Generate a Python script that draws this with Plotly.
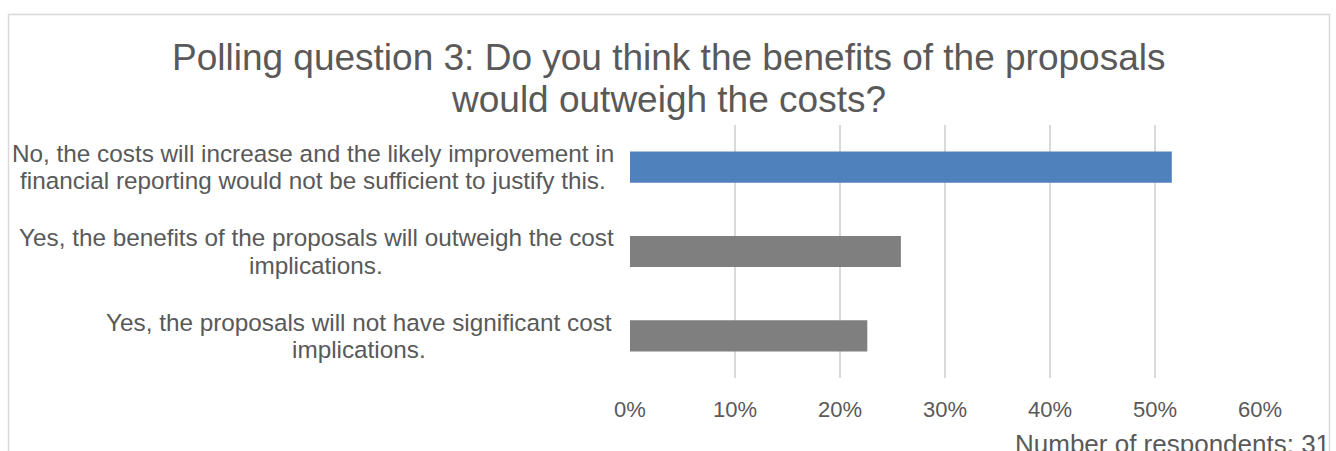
import plotly.graph_objects as go

# Poll results (each category label split into its two display lines)
categories = [
    "No, the costs will increase",
    "Yes, the benefits outweigh the costs",
    "Yes, no significant cost implications",
]
label_lines = [
    ["No, the costs will increase and the likely improvement in",
     "financial reporting would not be sufficient to justify this."],
    ["Yes, the benefits of the proposals will outweigh the cost",
     "implications."],
    ["Yes, the proposals will not have significant cost",
     "implications."],
]
shares = [0.516, 0.258, 0.226]
bar_colors = ["#4f81bd", "#7f7f7f", "#7f7f7f"]
tick_values = [0, 0.1, 0.2, 0.3, 0.4, 0.5, 0.6]
tick_labels = ["0%", "10%", "20%", "30%", "40%", "50%", "60%"]
title_lines = [
    "Polling question 3: Do you think the benefits of the proposals",
    "would outweigh the costs?",
]
footnote = "Number of respondents: 31"

W, H = 1336, 451
L, R, T, B = 630, 76, 125, 73
plot_w = W - L - R
plot_h = H - T - B

def px_x(px):
    return (px - L) / plot_w

def px_y(py):
    return (H - B - py) / plot_h

TEXT = "#595959"
FONT = "Liberation Sans, Arial, sans-serif"

fig = go.Figure(
    go.Bar(
        y=categories,
        x=shares,
        orientation="h",
        marker=dict(color=bar_colors, line=dict(width=0)),
        width=0.37,
        hoverinfo="skip",
    )
)

annotations = []

# Category labels: lines centred on each other, block right edge near the axis
label_centers_px = [313, 316, 359]
label_font = dict(family=FONT, size=24.3, color=TEXT)
line_gap = 27.4
for cat, lines, cx in zip(categories, label_lines, label_centers_px):
    for k, line in enumerate(lines):
        annotations.append(dict(
            text=line, x=px_x(cx), y=cat, xref="paper", yref="y",
            xanchor="center", yanchor="middle", yshift=line_gap / 2 - line_gap * k,
            borderpad=0, showarrow=False, font=label_font,
        ))

# Two-line chart title
title_tops_px = [36, 78]
for line, top in zip(title_lines, title_tops_px):
    annotations.append(dict(
        text=line, x=px_x(668.5), y=px_y(top), xref="paper", yref="paper",
        xanchor="center", yanchor="top", borderpad=0, showarrow=False,
        font=dict(family=FONT, size=37, color=TEXT),
    ))

annotations.append(dict(
    text=footnote, x=px_x(1332), y=px_y(427), xref="paper", yref="paper",
    xanchor="right", yanchor="top", showarrow=False,
    font=dict(family=FONT, size=26, color=TEXT),
))

fig.update_layout(
    width=W, height=H,
    margin=dict(l=L, r=R, t=T, b=B, pad=0),
    paper_bgcolor="white", plot_bgcolor="white",
    showlegend=False,
    xaxis=dict(
        range=[0, 0.6], tickvals=tick_values, ticktext=tick_labels,
        showgrid=True, gridcolor="#d9d9d9", gridwidth=1.5,
        zeroline=False, showline=False, ticks="",
        tickfont=dict(family=FONT, size=22, color=TEXT),
        ticklabelstandoff=16, fixedrange=True,
    ),
    yaxis=dict(
        autorange="reversed", showticklabels=False, showgrid=False,
        zeroline=False, showline=False, ticks="", fixedrange=True,
    ),
    annotations=annotations,
    shapes=[
        dict(
            type="rect", xref="paper", yref="paper",
            x0=px_x(8.5), x1=px_x(1329.5), y0=px_y(470), y1=px_y(14.5),
            line=dict(color="#d9d9d9", width=1.5), fillcolor="rgba(0,0,0,0)",
            layer="below",
        )
    ],
)

fig.write_html("out.html")
